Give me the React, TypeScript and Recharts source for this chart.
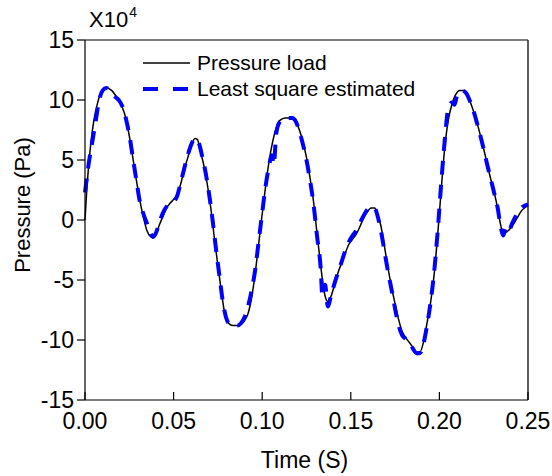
import { LineChart, Line, XAxis, YAxis, ReferenceLine } from 'recharts';

// time (s) and pressure (x10^4 Pa)
const loadTime = [
  0, 0.001, 0.003, 0.005, 0.007, 0.009, 0.012, 0.015, 0.018, 0.021, 0.023, 0.025, 0.027, 0.029, 0.031, 0.033,
  0.035, 0.037, 0.0385, 0.04, 0.042, 0.044, 0.046, 0.048, 0.05, 0.052, 0.054, 0.056, 0.058, 0.06, 0.062, 0.0635,
  0.065, 0.067, 0.069, 0.071, 0.073, 0.075, 0.077, 0.079, 0.081, 0.0835, 0.086, 0.088, 0.09, 0.092, 0.094, 0.096,
  0.098, 0.1, 0.102, 0.104, 0.106, 0.108, 0.11, 0.113, 0.117, 0.119, 0.121, 0.123, 0.125, 0.127, 0.129, 0.131,
  0.133, 0.135, 0.137, 0.139, 0.141, 0.143, 0.145, 0.147, 0.149, 0.151, 0.153, 0.155, 0.157, 0.159, 0.1615, 0.1635,
  0.165, 0.167, 0.169, 0.171, 0.173, 0.175, 0.177, 0.179, 0.181, 0.183, 0.185, 0.187, 0.189, 0.191, 0.193, 0.195,
  0.197, 0.199, 0.201, 0.203, 0.205, 0.207, 0.209, 0.2115, 0.2135, 0.216, 0.218, 0.22, 0.222, 0.224, 0.226, 0.228,
  0.23, 0.232, 0.234, 0.236, 0.238, 0.24, 0.242, 0.244, 0.246, 0.248, 0.25,
];
const loadValue = [
  0, 2.5, 6.0, 8.3, 9.7, 10.6, 11.0, 10.8, 10.2, 9.4, 8.5, 7.0, 5.2, 3.3, 1.6, 0.2,
  -0.9, -1.4, -1.5, -1.2, -0.4, 0.3, 1.0, 1.4, 1.7, 2.1, 3.0, 4.2, 5.2, 6.2, 6.8, 6.7,
  5.8, 4.6, 3.0, 1.0, -1.5, -3.8, -6.0, -7.9, -8.6, -8.8, -8.8, -8.7, -8.4, -7.8, -6.5, -4.5,
  -2.0, 0.5, 2.9, 5.0, 6.6, 7.7, 8.3, 8.5, 8.5, 8.2, 7.5, 6.5, 5.2, 3.5, 1.5, -1.2,
  -3.8, -6.0, -6.8, -6.3, -5.3, -4.3, -3.5, -2.7, -2.0, -1.6, -1.2, -0.6, 0.1, 0.6, 1.0, 1.0,
  0.5, -0.5, -2.2, -4.0, -5.6, -7.0, -8.3, -9.3, -9.8, -10.2, -10.6, -11.0, -11.0, -10.2, -8.6, -6.9,
  -4.6, -1.3, 2.5, 6.0, 8.3, 9.6, 10.4, 10.8, 10.8, 10.3, 9.6, 8.7, 7.7, 6.5, 5.3, 4.0,
  2.8, 1.6, 0.0, -1.1, -1.0, -0.7, -0.3, 0.2, 0.7, 1.0, 1.2,
];

const estTime = [
  0, 0.002, 0.004, 0.006, 0.008, 0.01, 0.012, 0.014, 0.016, 0.019, 0.021, 0.023, 0.025, 0.027, 0.029, 0.031,
  0.033, 0.035, 0.037, 0.0385, 0.04, 0.042, 0.044, 0.046, 0.048, 0.05, 0.052, 0.054, 0.056, 0.058, 0.06, 0.062,
  0.064, 0.066, 0.068, 0.07, 0.072, 0.074, 0.076, 0.078, 0.08, 0.082, 0.084, 0.086, 0.088, 0.09, 0.092, 0.094,
  0.096, 0.098, 0.1, 0.102, 0.104, 0.1055, 0.1065, 0.108, 0.11, 0.113, 0.117, 0.119, 0.121, 0.123, 0.125, 0.127,
  0.129, 0.131, 0.133, 0.134, 0.1355, 0.137, 0.139, 0.141, 0.143, 0.145, 0.147, 0.149, 0.151, 0.153, 0.155, 0.157,
  0.159, 0.1615, 0.1635, 0.165, 0.167, 0.169, 0.171, 0.173, 0.175, 0.177, 0.179, 0.181, 0.183, 0.185, 0.187, 0.189,
  0.191, 0.193, 0.195, 0.197, 0.199, 0.201, 0.203, 0.205, 0.207, 0.2085, 0.21, 0.2125, 0.215, 0.217, 0.219, 0.221,
  0.223, 0.225, 0.227, 0.229, 0.231, 0.233, 0.2345, 0.236, 0.2375, 0.239, 0.241, 0.243, 0.245, 0.247, 0.25,
];
const estValue = [
  2.3, 4.6, 6.4, 8.2, 10.0, 10.8, 11.0, 10.8, 10.4, 10.0, 9.5, 8.5, 7.1, 5.2, 3.3, 1.5,
  0.5, -0.3, -1.1, -1.4, -1.1, -0.2, 0.6, 1.1, 1.3, 1.5, 2.0, 3.1, 4.3, 5.4, 6.3, 6.8,
  6.5, 5.4, 4.0, 2.2, 0.0, -2.5, -4.8, -7.0, -8.3, -8.7, -8.7, -8.8, -8.6, -8.1, -7.2, -5.9,
  -4.2, -1.8, 0.6, 2.9, 4.6, 5.4, 4.6, 7.3, 8.2, 8.5, 8.5, 8.2, 7.4, 6.3, 5.0, 3.3,
  1.3, -1.4, -4.0, -6.4, -5.4, -7.2, -6.2, -5.2, -4.3, -3.4, -2.5, -1.8, -1.3, -0.9, -0.3, 0.3,
  0.8, 1.1, 1.0, 0.4, -0.9, -2.6, -4.3, -5.8, -7.4, -8.8, -9.6, -9.9, -10.2, -10.7, -11.1, -11.1,
  -10.3, -8.8, -6.9, -4.4, -1.0, 3.0, 6.6, 9.3, 9.8, 9.6, 10.4, 10.8, 10.6, 10.0, 9.2, 8.2,
  7.1, 5.9, 4.6, 3.4, 2.2, 0.9, -0.5, -1.3, -0.7, -1.0, -0.3, 0.3, 0.8, 1.1, 1.3,
];

const xTicks = [0, 0.05, 0.1, 0.15, 0.2, 0.25];
const yTicks = [-15, -10, -5, 0, 5, 10, 15];

const loadData = loadTime.map((t, i) => ({ t, p: loadValue[i] }));
const estData = estTime.map((t, i) => ({ t, p: estValue[i] }));

const FONT = '"Liberation Sans", Arial, sans-serif';

// bottom ticks point into the plot, labels sit below the axis
const XTick = ({ x, y, payload }: any) => (
  <g>
    <line x1={x} y1={y} x2={x} y2={y - 8} stroke="#000" strokeWidth={1.2} />
    <text x={x} y={y + 29} textAnchor="middle" fontSize={23} fontFamily={FONT} fill="#000">
      {Number(payload.value).toFixed(2)}
    </text>
  </g>
);

const App = () => {
  return (
    <div style={{ position: 'absolute', left: 0, top: 0, width: 552, height: 476, background: '#fff', fontFamily: FONT }}>
      <LineChart width={552} height={476} margin={{ top: 40, right: 24, bottom: 36, left: 25 }}>
        <XAxis
          type="number"
          dataKey="t"
          domain={[0, 0.25]}
          ticks={xTicks}
          height={40}
          tickSize={0}
          tickMargin={0}
          tickLine={false}
          tick={<XTick />}
          axisLine={{ stroke: '#000', strokeWidth: 1.2 }}
          allowDuplicatedCategory={false}
          label={{
            content: ({ viewBox }: any) => (
              <text x={viewBox.x + viewBox.width / 2 - 2} y={viewBox.y + 68} textAnchor="middle" fontSize={23} fontFamily={FONT} fill="#000">
                Time (S)
              </text>
            ),
          }}
        />
        <YAxis
          type="number"
          domain={[-15, 15]}
          ticks={yTicks}
          width={60}
          tickSize={8}
          tickMargin={3}
          tick={{ fill: '#000', fontSize: 23, fontFamily: FONT }}
          tickLine={{ stroke: '#000', strokeWidth: 1.2 }}
          axisLine={{ stroke: '#000', strokeWidth: 1.2 }}
          label={{
            content: ({ viewBox }: any) => {
              const cx = viewBox.x - 3;
              const cy = 205;
              return (
                <text x={cx} y={cy} transform={`rotate(-90 ${cx} ${cy})`} textAnchor="middle" dominantBaseline="central" fontSize={22} fontFamily={FONT} fill="#000">
                  Pressure (Pa)
                </text>
              );
            },
          }}
        />
        <ReferenceLine y={15} stroke="#000" strokeWidth={1.2} />
        <ReferenceLine x={0.25} stroke="#333" strokeWidth={1.6} />
        <Line data={loadData} dataKey="p" type="monotone" stroke="#000" strokeWidth={1.5} dot={false} isAnimationActive={false} />
        <Line data={estData} dataKey="p" type="monotone" stroke="#0000ff" strokeWidth={4} strokeDasharray="14 10" dot={false} isAnimationActive={false} />
      </LineChart>

      <div style={{ position: 'absolute', left: 89, top: 7, fontSize: 22, color: '#000', lineHeight: '26px' }}>
        X10<span style={{ fontSize: 14, position: 'relative', top: -10, marginLeft: 1 }}>4</span>
      </div>

      <div style={{ position: 'absolute', left: 143, top: 50, fontSize: 21, color: '#000' }}>
        <div style={{ display: 'flex', alignItems: 'center', height: 26 }}>
          <svg width={47} height={10}><line x1={0} y1={5} x2={47} y2={5} stroke="#000" strokeWidth={1.5} /></svg>
          <span style={{ marginLeft: 7 }}>Pressure load</span>
        </div>
        <div style={{ display: 'flex', alignItems: 'center', height: 26 }}>
          <svg width={47} height={10}><line x1={0} y1={5} x2={47} y2={5} stroke="#0000ff" strokeWidth={4} strokeDasharray="15 15" /></svg>
          <span style={{ marginLeft: 7 }}>Least square estimated</span>
        </div>
      </div>
    </div>
  );
};

export default App;
